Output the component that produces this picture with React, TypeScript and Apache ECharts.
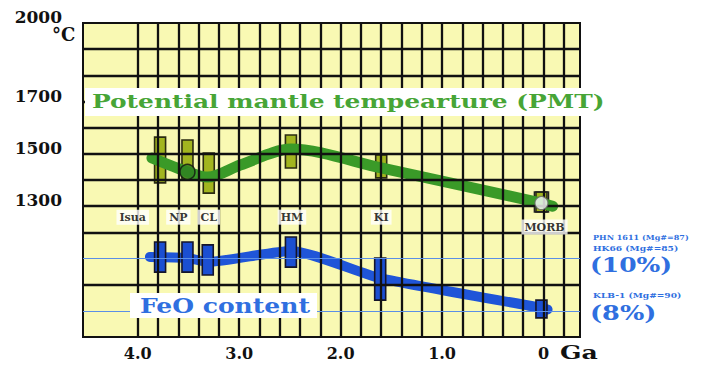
import React, { useEffect, useRef } from "react";
import * as echarts from "echarts";

// ---- data ----
const SITE_NAMES = ["Isua", "NP", "CL", "HM", "KI", "MORB"];
const PMT_BOX_GA = [3.78, 3.51, 3.3, 2.49, 1.6, 0.02];
const PMT_BOX_HIGH = [1564, 1553, 1503, 1572, 1496, 1354];
const PMT_BOX_LOW = [1389, 1400, 1350, 1446, 1408, 1278];
const PMT_LINE_GA = [3.86, 3.51, 3.31, 2.99, 2.49, 1.6, 0.02, -0.09];
const PMT_LINE_T = [1484, 1431, 1411, 1457, 1518, 1446, 1312, 1300];
const FEO_BOX_GA = [3.78, 3.51, 3.31, 2.49, 1.61, 0.02];
const FEO_BOX_HIGH = [10.63, 10.63, 10.52, 10.82, 10.02, 8.41];
const FEO_BOX_LOW = [9.48, 9.48, 9.37, 9.67, 8.41, 7.73];
const FEO_LINE_GA = [3.88, 3.51, 3.31, 2.49, 1.61, 0.02, -0.04];
const FEO_LINE_PCT = [10.06, 10.02, 9.87, 10.29, 9.25, 8.11, 8.05];
const SITE_LABEL_GA = [4.05, 3.6, 3.3, 2.48, 1.6, -0.01];
const SITE_LABEL_T = [1258, 1258, 1258, 1258, 1258, 1220];
const NP_POINT = [3.51, 1431];
const MORB_POINT = [0.02, 1312];
const X_LABELS = [4, 3, 2, 1, 0];
const Y_LABELS = [2000, 1700, 1500, 1300];
const X_GRID = [4.0, 3.8, 3.6, 3.4, 3.2, 3.0, 2.8, 2.6, 2.4, 2.2, 2.0, 1.8, 1.6, 1.4, 1.2, 1.0, 0.8, 0.6, 0.4, 0.2, 0.0, -0.2];
const Y_GRID = [1000, 1200, 1300, 1400, 1500, 1600, 1700, 1800, 1900];
const FEO_REF = [8, 10];

const FONT = '"DejaVu Serif", "Liberation Serif", serif';

export default function App() {
  const ref = useRef<HTMLDivElement>(null);
  useEffect(() => {
    if (!ref.current) return;
    const chart = echarts.init(ref.current, null, { renderer: "svg" });

    const boxRender = (fill: string, stroke: string) => (params: any, api: any) => {
      const top = api.coord([api.value(0), api.value(1)]);
      const bot = api.coord([api.value(0), api.value(2)]);
      const w = 11;
      return {
        type: "rect",
        shape: { x: top[0] - w / 2, y: top[1], width: w, height: bot[1] - top[1] },
        style: { fill, stroke, lineWidth: 1.6 },
      };
    };

    const option: any = {
      animation: false,
      grid: {
        left: 83, top: 23, width: 497, height: 314,
        show: true, backgroundColor: "#f9f9b3", borderColor: "#111", borderWidth: 2,
      },
      xAxis: {
        type: "value", inverse: true, min: -0.36, max: 4.54,
        splitLine: { show: false }, axisLine: { show: false }, axisTick: { show: false },
        axisLabel: {
          customValues: X_LABELS,
          formatter: (v: number) => (v === 0 ? "0" : v.toFixed(1)),
          fontFamily: FONT, fontWeight: "bold", fontSize: 16, color: "#111", margin: 8,
        },
      },
      yAxis: [
        {
          type: "value", min: 800, max: 2000, interval: 100,
          splitLine: { show: false }, axisLine: { show: false }, axisTick: { show: false },
          axisLabel: {
            formatter: (v: number) => (Y_LABELS.indexOf(v) >= 0 ? String(v) : ""),
            fontFamily: FONT, fontWeight: "bold", fontSize: 17, color: "#111", margin: 21,
            verticalAlign: "bottom", lineHeight: 12,
          },
        },
        { type: "value", min: 7, max: 19, show: false },
      ],
      series: [
        {
          type: "line", data: [], z: 1, silent: true,
          markLine: {
            silent: true, symbol: ["none", "none"], label: { show: false },
            lineStyle: { color: "#111", width: 2.3, type: "solid" },
            data: [
              ...X_GRID.map((v) => ({ xAxis: v })),
              ...Y_GRID.map((v) => ({ yAxis: v })),
            ],
          },
        },
        {
          type: "line", data: [], yAxisIndex: 1, z: 1, silent: true,
          markLine: {
            silent: true, symbol: ["none", "none"], label: { show: false },
            lineStyle: { color: "#5b8fe6", width: 1.2, type: "solid" },
            data: FEO_REF.map((v) => ({ yAxis: v })),
          },
        },
        {
          type: "custom", name: "PMT range", z: 3,
          renderItem: boxRender("#a2b51f", "#2b2b12"),
          encode: { x: 0, y: [1, 2] },
          data: PMT_BOX_GA.map((g, i) => [g, PMT_BOX_HIGH[i], PMT_BOX_LOW[i]]),
        },
        {
          type: "line", name: "PMT", z: 4, smooth: 0.3, symbol: "none",
          lineStyle: { color: "#3a9a28", width: 11, cap: "round" },
          data: PMT_LINE_GA.map((g, i) => [g, PMT_LINE_T[i]]),
        },
        {
          type: "custom", name: "MORB box", z: 4,
          renderItem: (params: any, api: any) => {
            const top = api.coord([api.value(0), api.value(1)]);
            const bot = api.coord([api.value(0), api.value(2)]);
            const w = 14;
            return {
              type: "rect",
              shape: { x: top[0] - w / 2, y: top[1], width: w, height: bot[1] - top[1] },
              style: { fill: "rgba(255,255,255,0)", stroke: "#222", lineWidth: 1.6 },
            };
          },
          encode: { x: 0, y: [1, 2] },
          data: [[PMT_BOX_GA[5], PMT_BOX_HIGH[5], PMT_BOX_LOW[5]]],
        },
        {
          type: "scatter", z: 5, symbolSize: 15,
          itemStyle: { color: "#2f7f20", borderColor: "#111", borderWidth: 1.5 },
          data: [NP_POINT],
        },
        {
          type: "scatter", z: 5, symbolSize: 13,
          itemStyle: { color: "#ffffff", borderColor: "#666", borderWidth: 1.2 },
          data: [MORB_POINT],
        },
        {
          type: "line", name: "FeO", yAxisIndex: 1, z: 3, smooth: 0.2, symbol: "none",
          lineStyle: { color: "#1f55d8", width: 10, cap: "round" },
          data: FEO_LINE_GA.map((g, i) => [g, FEO_LINE_PCT[i]]),
        },
        {
          type: "custom", name: "FeO range", yAxisIndex: 1, z: 4,
          renderItem: boxRender("#1b4fd2", "#15152a"),
          encode: { x: 0, y: [1, 2] },
          data: FEO_BOX_GA.map((g, i) => [g, FEO_BOX_HIGH[i], FEO_BOX_LOW[i]]),
        },
        {
          type: "scatter", z: 6, symbolSize: 1,
          itemStyle: { color: "rgba(0,0,0,0)" },
          label: {
            show: true, position: "inside",
            formatter: (p: any) => SITE_NAMES[p.dataIndex],
            fontFamily: FONT, fontWeight: "bold", fontSize: 11, color: "#000",
            backgroundColor: "#ffffff", padding: [2, 3],
          },
          data: SITE_LABEL_GA.map((g, i) => [g, SITE_LABEL_T[i]]),
        },
      ],
      graphic: [
        { type: "rect", z: 10, shape: { x: 85, y: 88, width: 522, height: 28 }, style: { fill: "#ffffff" } },
        {
          type: "text", z: 11, x: 92, y: 101, scaleX: 1.31,
          style: { text: "Potential mantle tempearture (PMT)", fill: "#47a536", fontFamily: FONT, fontWeight: "bold", fontSize: 19, verticalAlign: "middle", align: "left" },
        },
        { type: "rect", z: 10, shape: { x: 130, y: 293, width: 187, height: 25 }, style: { fill: "#ffffff" } },
        {
          type: "text", z: 11, x: 140, y: 306, scaleX: 1.25,
          style: { text: "FeO content", fill: "#2f6fe0", fontFamily: FONT, fontWeight: "bold", fontSize: 20, verticalAlign: "middle", align: "left" },
        },
        {
          type: "text", z: 11, x: 52, y: 34,
          style: { text: "°C", fill: "#111", fontFamily: FONT, fontWeight: "bold", fontSize: 18, verticalAlign: "middle", align: "left" },
        },
        {
          type: "text", z: 11, x: 560, y: 352, scaleX: 1.4,
          style: { text: "Ga", fill: "#111", fontFamily: FONT, fontWeight: "bold", fontSize: 18, verticalAlign: "middle", align: "left" },
        },
        {
          type: "text", z: 11, x: 593, y: 238, scaleX: 1.15,
          style: { text: "PHN 1611 (Mg#=87)", fill: "#2f6fe0", fontFamily: FONT, fontWeight: "bold", fontSize: 7, verticalAlign: "middle", align: "left" },
        },
        {
          type: "text", z: 11, x: 593, y: 248, scaleX: 1.3,
          style: { text: "HK66 (Mg#=85)", fill: "#2f6fe0", fontFamily: FONT, fontWeight: "bold", fontSize: 7, verticalAlign: "middle", align: "left" },
        },
        {
          type: "text", z: 11, x: 590, y: 265, scaleX: 1.25,
          style: { text: "(10%)", fill: "#2f6fe0", fontFamily: FONT, fontWeight: "bold", fontSize: 20, verticalAlign: "middle", align: "left" },
        },
        {
          type: "text", z: 11, x: 593, y: 295, scaleX: 1.3,
          style: { text: "KLB-1 (Mg#=90)", fill: "#2f6fe0", fontFamily: FONT, fontWeight: "bold", fontSize: 7, verticalAlign: "middle", align: "left" },
        },
        {
          type: "text", z: 11, x: 590, y: 313, scaleX: 1.28,
          style: { text: "(8%)", fill: "#2f6fe0", fontFamily: FONT, fontWeight: "bold", fontSize: 20, verticalAlign: "middle", align: "left" },
        },
      ],
    };
    chart.setOption(option);
    return () => chart.dispose();
  }, []);
  return <div ref={ref} style={{ position: "fixed", left: 0, top: 0, width: 707, height: 366, background: "#fff" }} />;
}
